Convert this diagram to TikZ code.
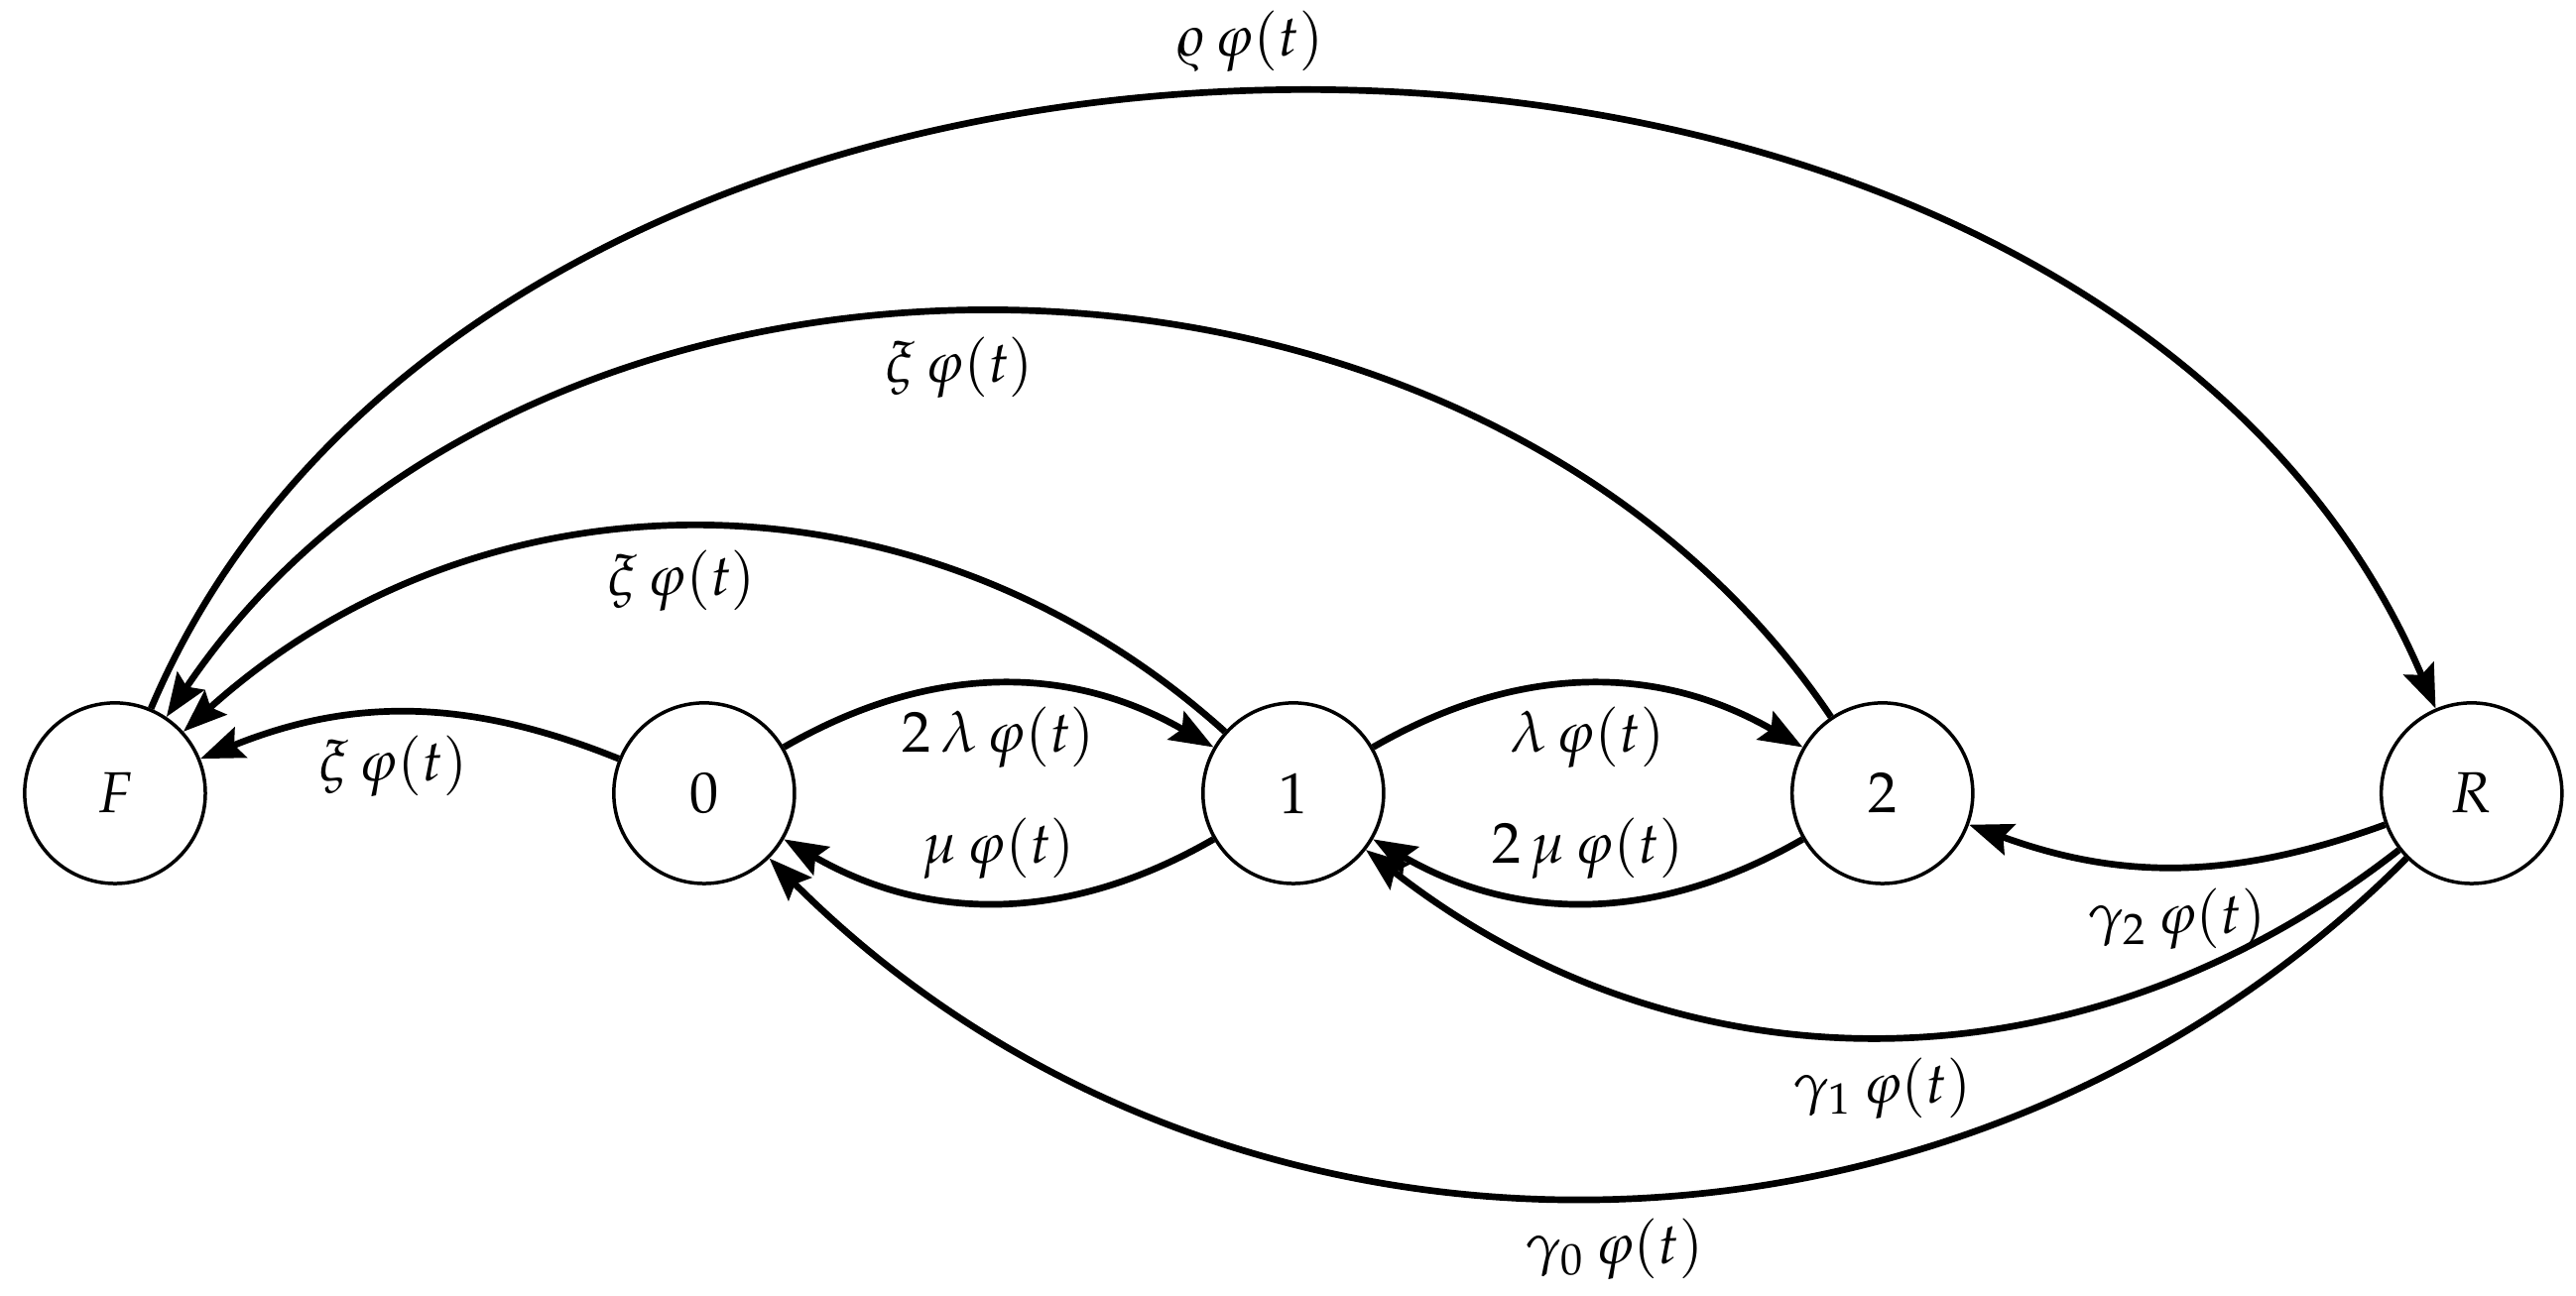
\documentclass[tikz,border=0pt]{standalone}
\usepackage{mathpazo}
\usetikzlibrary{arrows.meta,positioning}
\begin{document}
\begin{tikzpicture}[>={Stealth[length=7.5pt,width=5.6pt,inset=1.2pt]},
		state/.style={draw,circle,line width=0.6pt,minimum size=1.1cm,inner sep=0pt},
		trans/.style={->,line width=1.15pt},
		node distance=2.465cm]
		\useasboundingbox (-0.70,-3.06) rectangle (14.98,4.83);
		% Zustaende
		\node[state] (F) at (0,0) {$F$};
		\node[state,right=of F] (s0) {$0$};
		\node[state,right=of s0] (s1) {$1$};
		\node[state,right=of s1] (s2) {$2$};
		\node[state,right=of s2] (R) {$R$};
		% Uebergaenge
		\draw[trans] (s0) to[bend left=30] node[below] {$2\,\lambda\,\varphi(t)$} (s1);
		\draw[trans] (s1) to[bend left=30] node[above] {$\mu\,\varphi(t)$} (s0);
		\draw[trans] (s1) to[bend left=30] node[below] {$\lambda\,\varphi(t)$} (s2);
		\draw[trans] (s2) to[bend left=30] node[above] {$2\,\mu\,\varphi(t)$} (s1);
		\draw[trans] (s0) to[bend right=22] node[below,pos=0.54] {$\xi\,\varphi(t)$} (F);
		\draw[trans] (s1) to[bend right=42] node[below,pos=0.52] {$\xi\,\varphi(t)$} (F);
		\draw[trans] (s2) to[bend right=56] node[below,pos=0.52] {$\xi\,\varphi(t)$} (F);
		\draw[trans] (F) to[bend left=67] node[above,pos=0.485] {$\varrho\,\varphi(t)$} (R);
		\draw[trans] (R) to[bend left=20] node[below] {$\gamma_2\,\varphi(t)$} (s2);
		\draw[trans] (R) to[bend left=38] node[below] {$\gamma_1\,\varphi(t)$} (s1);
		\draw[trans] (R) to[bend left=45] node[below,pos=0.485] {$\gamma_0\,\varphi(t)$} (s0);
\end{tikzpicture}
\end{document}
